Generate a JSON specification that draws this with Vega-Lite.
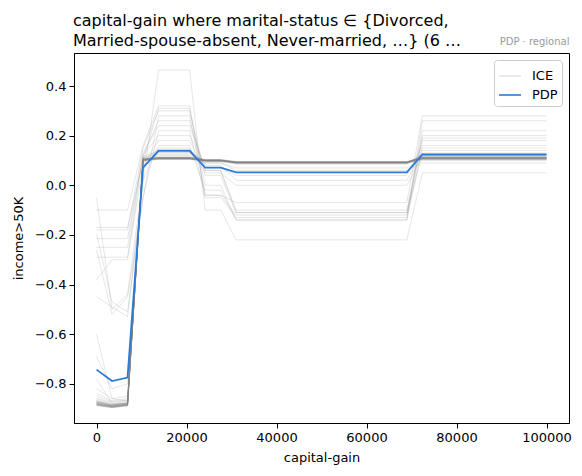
{
"$schema": "https://vega.github.io/schema/vega-lite/v6.json",
"width": 495, "height": 370,
"autosize": {"type": "none"},
"padding": {"left": 74, "top": 53, "right": 13, "bottom": 53},
"background": "white",
"title": {"text": ["capital-gain where marital-status ∈ {Divorced,", "Married-spouse-absent, Never-married, …} (6 …"], "anchor": "start", "frame": "group", "fontSize": 16, "font": "DejaVu Sans", "fontWeight": "normal", "color": "black", "lineHeight": 20, "offset": -13, "dx": -1},
"config": {
 "view": {"stroke": "black", "strokeWidth": 1},
 "axis": {"labelFont": "DejaVu Sans", "titleFont": "DejaVu Sans", "labelFontSize": 13, "titleFontSize": 13, "titleFontWeight": "normal", "labelColor": "black", "titleColor": "black", "domainColor": "black", "tickColor": "black", "tickSize": 5, "labelPadding": 3, "grid": false},
 "legend": {"orient": "top-right", "offset": 7, "padding": 4, "fillColor": "white", "strokeColor": "#cccccc", "cornerRadius": 3, "labelFont": "DejaVu Sans", "labelFontSize": 13, "labelColor": "black", "labelOffset": 10, "symbolSize": 484, "symbolStrokeWidth": 1.6, "rowPadding": 0}
},
"datasets": {
"pdp": [
{"x":0,"y":-0.743},{"x":3448,"y":-0.789},{"x":6897,"y":-0.775},{"x":10345,"y":0.071},{"x":13793,"y":0.139},{"x":17241,"y":0.139},{"x":20690,"y":0.139},{"x":24138,"y":0.071},{"x":27586,"y":0.071},{"x":31034,"y":0.052},{"x":34483,"y":0.052},{"x":37931,"y":0.052},{"x":41379,"y":0.052},{"x":44828,"y":0.052},{"x":48276,"y":0.052},{"x":51724,"y":0.052},{"x":55172,"y":0.052},{"x":58621,"y":0.052},{"x":62069,"y":0.052},{"x":65517,"y":0.052},{"x":68966,"y":0.052},{"x":72414,"y":0.124},{"x":75862,"y":0.124},{"x":79310,"y":0.124},{"x":82759,"y":0.124},{"x":86207,"y":0.124},{"x":89655,"y":0.124},{"x":93103,"y":0.124},{"x":96552,"y":0.124},{"x":100000,"y":0.124}
],
"ice": [
{"id":"O1","x":0,"y":-0.05},{"id":"O1","x":3448,"y":-0.5},{"id":"O1","x":6897,"y":-0.44},{"id":"O1","x":10345,"y":0.02},{"id":"O1","x":13793,"y":0.465},{"id":"O1","x":20690,"y":0.465},{"id":"O1","x":24138,"y":-0.1},{"id":"O1","x":27586,"y":-0.1},{"id":"O1","x":31034,"y":-0.22},{"id":"O1","x":68966,"y":-0.22},{"id":"O1","x":72414,"y":0.05},{"id":"O1","x":100000,"y":0.05},
{"id":"O2","x":0,"y":-0.1},{"id":"O2","x":3448,"y":-0.1},{"id":"O2","x":6897,"y":-0.1},{"id":"O2","x":10345,"y":0.16},{"id":"O2","x":13793,"y":0.32},{"id":"O2","x":20690,"y":0.32},{"id":"O2","x":24138,"y":-0.04},{"id":"O2","x":27586,"y":-0.04},{"id":"O2","x":31034,"y":-0.07},{"id":"O2","x":68966,"y":-0.07},{"id":"O2","x":72414,"y":0.28},{"id":"O2","x":100000,"y":0.28},
{"id":"O3","x":0,"y":-0.17},{"id":"O3","x":3448,"y":-0.17},{"id":"O3","x":6897,"y":-0.17},{"id":"O3","x":10345,"y":0.1},{"id":"O3","x":13793,"y":0.31},{"id":"O3","x":20690,"y":0.31},{"id":"O3","x":24138,"y":0.0},{"id":"O3","x":27586,"y":0.0},{"id":"O3","x":31034,"y":-0.14},{"id":"O3","x":68966,"y":-0.14},{"id":"O3","x":72414,"y":0.26},{"id":"O3","x":100000,"y":0.26},
{"id":"O4","x":0,"y":-0.18},{"id":"O4","x":3448,"y":-0.18},{"id":"O4","x":6897,"y":-0.18},{"id":"O4","x":10345,"y":0.15},{"id":"O4","x":13793,"y":0.3},{"id":"O4","x":20690,"y":0.3},{"id":"O4","x":24138,"y":0.04},{"id":"O4","x":27586,"y":0.04},{"id":"O4","x":31034,"y":-0.11},{"id":"O4","x":68966,"y":-0.11},{"id":"O4","x":72414,"y":0.22},{"id":"O4","x":100000,"y":0.22},
{"id":"O5","x":0,"y":-0.195},{"id":"O5","x":3448,"y":-0.47},{"id":"O5","x":6897,"y":-0.51},{"id":"O5","x":10345,"y":-0.05},{"id":"O5","x":13793,"y":0.28},{"id":"O5","x":20690,"y":0.28},{"id":"O5","x":24138,"y":-0.04},{"id":"O5","x":27586,"y":-0.04},{"id":"O5","x":31034,"y":-0.12},{"id":"O5","x":68966,"y":-0.12},{"id":"O5","x":72414,"y":0.2},{"id":"O5","x":100000,"y":0.2},
{"id":"O6","x":0,"y":-0.215},{"id":"O6","x":3448,"y":-0.215},{"id":"O6","x":6897,"y":-0.215},{"id":"O6","x":10345,"y":0.12},{"id":"O6","x":13793,"y":0.26},{"id":"O6","x":20690,"y":0.26},{"id":"O6","x":24138,"y":0.06},{"id":"O6","x":27586,"y":0.06},{"id":"O6","x":31034,"y":-0.1},{"id":"O6","x":68966,"y":-0.1},{"id":"O6","x":72414,"y":0.19},{"id":"O6","x":100000,"y":0.19},
{"id":"O7","x":0,"y":-0.25},{"id":"O7","x":3448,"y":-0.25},{"id":"O7","x":6897,"y":-0.25},{"id":"O7","x":10345,"y":0.13},{"id":"O7","x":13793,"y":0.24},{"id":"O7","x":20690,"y":0.24},{"id":"O7","x":24138,"y":0.07},{"id":"O7","x":27586,"y":0.07},{"id":"O7","x":31034,"y":0.04},{"id":"O7","x":68966,"y":0.04},{"id":"O7","x":72414,"y":0.16},{"id":"O7","x":100000,"y":0.16},
{"id":"O8","x":0,"y":-0.26},{"id":"O8","x":3448,"y":-0.52},{"id":"O8","x":6897,"y":-0.45},{"id":"O8","x":10345,"y":-0.05},{"id":"O8","x":13793,"y":0.22},{"id":"O8","x":20690,"y":0.22},{"id":"O8","x":24138,"y":-0.05},{"id":"O8","x":27586,"y":-0.05},{"id":"O8","x":31034,"y":-0.13},{"id":"O8","x":68966,"y":-0.13},{"id":"O8","x":72414,"y":0.18},{"id":"O8","x":100000,"y":0.18},
{"id":"O9","x":0,"y":-0.29},{"id":"O9","x":3448,"y":-0.29},{"id":"O9","x":6897,"y":-0.29},{"id":"O9","x":10345,"y":0.12},{"id":"O9","x":13793,"y":0.2},{"id":"O9","x":20690,"y":0.2},{"id":"O9","x":24138,"y":0.08},{"id":"O9","x":27586,"y":0.08},{"id":"O9","x":31034,"y":0.02},{"id":"O9","x":68966,"y":0.02},{"id":"O9","x":72414,"y":0.14},{"id":"O9","x":100000,"y":0.14},
{"id":"O10","x":0,"y":-0.38},{"id":"O10","x":3448,"y":-0.3},{"id":"O10","x":6897,"y":-0.3},{"id":"O10","x":10345,"y":0.08},{"id":"O10","x":13793,"y":0.18},{"id":"O10","x":20690,"y":0.18},{"id":"O10","x":24138,"y":0.06},{"id":"O10","x":27586,"y":0.06},{"id":"O10","x":31034,"y":-0.11},{"id":"O10","x":68966,"y":-0.11},{"id":"O10","x":72414,"y":0.13},{"id":"O10","x":100000,"y":0.13},
{"id":"O11","x":0,"y":-0.45},{"id":"O11","x":3448,"y":-0.49},{"id":"O11","x":6897,"y":-0.53},{"id":"O11","x":10345,"y":0.02},{"id":"O11","x":13793,"y":0.16},{"id":"O11","x":20690,"y":0.16},{"id":"O11","x":24138,"y":-0.02},{"id":"O11","x":27586,"y":-0.02},{"id":"O11","x":31034,"y":-0.14},{"id":"O11","x":68966,"y":-0.14},{"id":"O11","x":72414,"y":0.15},{"id":"O11","x":100000,"y":0.15},
{"id":"O12","x":0,"y":-0.69},{"id":"O12","x":3448,"y":-0.82},{"id":"O12","x":6897,"y":-0.8},{"id":"O12","x":10345,"y":0.09},{"id":"O12","x":13793,"y":0.15},{"id":"O12","x":20690,"y":0.15},{"id":"O12","x":24138,"y":0.05},{"id":"O12","x":27586,"y":0.05},{"id":"O12","x":31034,"y":0.0},{"id":"O12","x":68966,"y":0.0},{"id":"O12","x":72414,"y":0.12},{"id":"O12","x":100000,"y":0.12},
{"id":"O13","x":0,"y":-0.6},{"id":"O13","x":3448,"y":-0.86},{"id":"O13","x":6897,"y":-0.87},{"id":"O13","x":10345,"y":0.08},{"id":"O13","x":13793,"y":0.13},{"id":"O13","x":20690,"y":0.13},{"id":"O13","x":24138,"y":0.09},{"id":"O13","x":27586,"y":0.09},{"id":"O13","x":31034,"y":0.07},{"id":"O13","x":68966,"y":0.07},{"id":"O13","x":72414,"y":0.1},{"id":"O13","x":100000,"y":0.1},
{"id":"O14","x":0,"y":-0.78},{"id":"O14","x":3448,"y":-0.88},{"id":"O14","x":6897,"y":-0.88},{"id":"O14","x":10345,"y":0.1},{"id":"O14","x":13793,"y":0.12},{"id":"O14","x":20690,"y":0.12},{"id":"O14","x":24138,"y":0.09},{"id":"O14","x":27586,"y":0.09},{"id":"O14","x":31034,"y":0.06},{"id":"O14","x":68966,"y":0.06},{"id":"O14","x":72414,"y":0.09},{"id":"O14","x":100000,"y":0.09},
{"id":"C1","x":0,"y":-0.87},{"id":"C1","x":3448,"y":-0.885},{"id":"C1","x":6897,"y":-0.878},{"id":"C1","x":10345,"y":0.102},{"id":"C1","x":13793,"y":0.108},{"id":"C1","x":20690,"y":0.108},{"id":"C1","x":24138,"y":0.1},{"id":"C1","x":27586,"y":0.1},{"id":"C1","x":31034,"y":0.092},{"id":"C1","x":68966,"y":0.092},{"id":"C1","x":72414,"y":0.11},{"id":"C1","x":100000,"y":0.11},
{"id":"C2","x":0,"y":-0.875},{"id":"C2","x":3448,"y":-0.89},{"id":"C2","x":6897,"y":-0.88},{"id":"C2","x":10345,"y":0.104},{"id":"C2","x":13793,"y":0.11},{"id":"C2","x":20690,"y":0.11},{"id":"C2","x":24138,"y":0.101},{"id":"C2","x":27586,"y":0.101},{"id":"C2","x":31034,"y":0.093},{"id":"C2","x":68966,"y":0.093},{"id":"C2","x":72414,"y":0.112},{"id":"C2","x":100000,"y":0.112},
{"id":"C3","x":0,"y":-0.88},{"id":"C3","x":3448,"y":-0.892},{"id":"C3","x":6897,"y":-0.884},{"id":"C3","x":10345,"y":0.1},{"id":"C3","x":13793,"y":0.106},{"id":"C3","x":20690,"y":0.106},{"id":"C3","x":24138,"y":0.098},{"id":"C3","x":27586,"y":0.098},{"id":"C3","x":31034,"y":0.09},{"id":"C3","x":68966,"y":0.09},{"id":"C3","x":72414,"y":0.108},{"id":"C3","x":100000,"y":0.108},
{"id":"C4","x":0,"y":-0.884},{"id":"C4","x":3448,"y":-0.894},{"id":"C4","x":6897,"y":-0.886},{"id":"C4","x":10345,"y":0.103},{"id":"C4","x":13793,"y":0.109},{"id":"C4","x":20690,"y":0.109},{"id":"C4","x":24138,"y":0.099},{"id":"C4","x":27586,"y":0.099},{"id":"C4","x":31034,"y":0.091},{"id":"C4","x":68966,"y":0.091},{"id":"C4","x":72414,"y":0.106},{"id":"C4","x":100000,"y":0.106},
{"id":"C5","x":0,"y":-0.887},{"id":"C5","x":3448,"y":-0.895},{"id":"C5","x":6897,"y":-0.888},{"id":"C5","x":10345,"y":0.106},{"id":"C5","x":13793,"y":0.112},{"id":"C5","x":20690,"y":0.112},{"id":"C5","x":24138,"y":0.102},{"id":"C5","x":27586,"y":0.102},{"id":"C5","x":31034,"y":0.094},{"id":"C5","x":68966,"y":0.094},{"id":"C5","x":72414,"y":0.114},{"id":"C5","x":100000,"y":0.114},
{"id":"C6","x":0,"y":-0.862},{"id":"C6","x":3448,"y":-0.88},{"id":"C6","x":6897,"y":-0.872},{"id":"C6","x":10345,"y":0.101},{"id":"C6","x":13793,"y":0.107},{"id":"C6","x":20690,"y":0.107},{"id":"C6","x":24138,"y":0.1},{"id":"C6","x":27586,"y":0.1},{"id":"C6","x":31034,"y":0.092},{"id":"C6","x":68966,"y":0.092},{"id":"C6","x":72414,"y":0.109},{"id":"C6","x":100000,"y":0.109},
{"id":"C7","x":0,"y":-0.878},{"id":"C7","x":3448,"y":-0.888},{"id":"C7","x":6897,"y":-0.882},{"id":"C7","x":10345,"y":0.105},{"id":"C7","x":13793,"y":0.111},{"id":"C7","x":20690,"y":0.111},{"id":"C7","x":24138,"y":0.103},{"id":"C7","x":27586,"y":0.103},{"id":"C7","x":31034,"y":0.095},{"id":"C7","x":68966,"y":0.095},{"id":"C7","x":72414,"y":0.111},{"id":"C7","x":100000,"y":0.111},
{"id":"C8","x":0,"y":-0.882},{"id":"C8","x":3448,"y":-0.893},{"id":"C8","x":6897,"y":-0.885},{"id":"C8","x":10345,"y":0.099},{"id":"C8","x":13793,"y":0.105},{"id":"C8","x":20690,"y":0.105},{"id":"C8","x":24138,"y":0.097},{"id":"C8","x":27586,"y":0.097},{"id":"C8","x":31034,"y":0.089},{"id":"C8","x":68966,"y":0.089},{"id":"C8","x":72414,"y":0.104},{"id":"C8","x":100000,"y":0.104},
{"id":"C9","x":0,"y":-0.873},{"id":"C9","x":3448,"y":-0.886},{"id":"C9","x":6897,"y":-0.879},{"id":"C9","x":10345,"y":0.107},{"id":"C9","x":13793,"y":0.113},{"id":"C9","x":20690,"y":0.113},{"id":"C9","x":24138,"y":0.104},{"id":"C9","x":27586,"y":0.104},{"id":"C9","x":31034,"y":0.096},{"id":"C9","x":68966,"y":0.096},{"id":"C9","x":72414,"y":0.115},{"id":"C9","x":100000,"y":0.115},
{"id":"C10","x":0,"y":-0.886},{"id":"C10","x":3448,"y":-0.896},{"id":"C10","x":6897,"y":-0.889},{"id":"C10","x":10345,"y":0.102},{"id":"C10","x":13793,"y":0.108},{"id":"C10","x":20690,"y":0.108},{"id":"C10","x":24138,"y":0.099},{"id":"C10","x":27586,"y":0.099},{"id":"C10","x":31034,"y":0.091},{"id":"C10","x":68966,"y":0.091},{"id":"C10","x":72414,"y":0.107},{"id":"C10","x":100000,"y":0.107},
{"id":"C11","x":0,"y":-0.858},{"id":"C11","x":3448,"y":-0.876},{"id":"C11","x":6897,"y":-0.868},{"id":"C11","x":10345,"y":0.104},{"id":"C11","x":13793,"y":0.11},{"id":"C11","x":20690,"y":0.11},{"id":"C11","x":24138,"y":0.101},{"id":"C11","x":27586,"y":0.101},{"id":"C11","x":31034,"y":0.093},{"id":"C11","x":68966,"y":0.093},{"id":"C11","x":72414,"y":0.11},{"id":"C11","x":100000,"y":0.11},
{"id":"C12","x":0,"y":-0.88},{"id":"C12","x":3448,"y":-0.89},{"id":"C12","x":6897,"y":-0.883},{"id":"C12","x":10345,"y":0.1},{"id":"C12","x":13793,"y":0.106},{"id":"C12","x":20690,"y":0.106},{"id":"C12","x":24138,"y":0.098},{"id":"C12","x":27586,"y":0.098},{"id":"C12","x":31034,"y":0.09},{"id":"C12","x":68966,"y":0.09},{"id":"C12","x":72414,"y":0.105},{"id":"C12","x":100000,"y":0.105},
{"id":"C13","x":0,"y":-0.876},{"id":"C13","x":3448,"y":-0.887},{"id":"C13","x":6897,"y":-0.881},{"id":"C13","x":10345,"y":0.108},{"id":"C13","x":13793,"y":0.114},{"id":"C13","x":20690,"y":0.114},{"id":"C13","x":24138,"y":0.102},{"id":"C13","x":27586,"y":0.102},{"id":"C13","x":31034,"y":0.094},{"id":"C13","x":68966,"y":0.094},{"id":"C13","x":72414,"y":0.113},{"id":"C13","x":100000,"y":0.113},
{"id":"C14","x":0,"y":-0.885},{"id":"C14","x":3448,"y":-0.894},{"id":"C14","x":6897,"y":-0.887},{"id":"C14","x":10345,"y":0.103},{"id":"C14","x":13793,"y":0.109},{"id":"C14","x":20690,"y":0.109},{"id":"C14","x":24138,"y":0.1},{"id":"C14","x":27586,"y":0.1},{"id":"C14","x":31034,"y":0.092},{"id":"C14","x":68966,"y":0.092},{"id":"C14","x":72414,"y":0.108},{"id":"C14","x":100000,"y":0.108},
{"id":"C15","x":0,"y":-0.868},{"id":"C15","x":3448,"y":-0.884},{"id":"C15","x":6897,"y":-0.876},{"id":"C15","x":10345,"y":0.101},{"id":"C15","x":13793,"y":0.107},{"id":"C15","x":20690,"y":0.107},{"id":"C15","x":24138,"y":0.099},{"id":"C15","x":27586,"y":0.099},{"id":"C15","x":31034,"y":0.091},{"id":"C15","x":68966,"y":0.091},{"id":"C15","x":72414,"y":0.109},{"id":"C15","x":100000,"y":0.109},
{"id":"C16","x":0,"y":-0.883},{"id":"C16","x":3448,"y":-0.892},{"id":"C16","x":6897,"y":-0.886},{"id":"C16","x":10345,"y":0.105},{"id":"C16","x":13793,"y":0.111},{"id":"C16","x":20690,"y":0.111},{"id":"C16","x":24138,"y":0.101},{"id":"C16","x":27586,"y":0.101},{"id":"C16","x":31034,"y":0.093},{"id":"C16","x":68966,"y":0.093},{"id":"C16","x":72414,"y":0.111},{"id":"C16","x":100000,"y":0.111},
{"id":"C17","x":0,"y":-0.85},{"id":"C17","x":3448,"y":-0.872},{"id":"C17","x":6897,"y":-0.865},{"id":"C17","x":10345,"y":0.11},{"id":"C17","x":13793,"y":0.125},{"id":"C17","x":20690,"y":0.125},{"id":"C17","x":24138,"y":0.1},{"id":"C17","x":27586,"y":0.1},{"id":"C17","x":31034,"y":0.092},{"id":"C17","x":68966,"y":0.092},{"id":"C17","x":72414,"y":0.118},{"id":"C17","x":100000,"y":0.118},
{"id":"C18","x":0,"y":-0.84},{"id":"C18","x":3448,"y":-0.868},{"id":"C18","x":6897,"y":-0.86},{"id":"C18","x":10345,"y":0.112},{"id":"C18","x":13793,"y":0.132},{"id":"C18","x":20690,"y":0.132},{"id":"C18","x":24138,"y":0.098},{"id":"C18","x":27586,"y":0.098},{"id":"C18","x":31034,"y":0.088},{"id":"C18","x":68966,"y":0.088},{"id":"C18","x":72414,"y":0.122},{"id":"C18","x":100000,"y":0.122},
{"id":"C19","x":0,"y":-0.879},{"id":"C19","x":3448,"y":-0.889},{"id":"C19","x":6897,"y":-0.883},{"id":"C19","x":10345,"y":0.098},{"id":"C19","x":13793,"y":0.104},{"id":"C19","x":20690,"y":0.104},{"id":"C19","x":24138,"y":0.097},{"id":"C19","x":27586,"y":0.097},{"id":"C19","x":31034,"y":0.089},{"id":"C19","x":68966,"y":0.089},{"id":"C19","x":72414,"y":0.103},{"id":"C19","x":100000,"y":0.103},
{"id":"C20","x":0,"y":-0.888},{"id":"C20","x":3448,"y":-0.896},{"id":"C20","x":6897,"y":-0.889},{"id":"C20","x":10345,"y":0.104},{"id":"C20","x":13793,"y":0.11},{"id":"C20","x":20690,"y":0.11},{"id":"C20","x":24138,"y":0.1},{"id":"C20","x":27586,"y":0.1},{"id":"C20","x":31034,"y":0.092},{"id":"C20","x":68966,"y":0.092},{"id":"C20","x":72414,"y":0.11},{"id":"C20","x":100000,"y":0.11},
{"id":"C21","x":0,"y":-0.872},{"id":"C21","x":3448,"y":-0.886},{"id":"C21","x":6897,"y":-0.878},{"id":"C21","x":10345,"y":0.106},{"id":"C21","x":13793,"y":0.112},{"id":"C21","x":20690,"y":0.112},{"id":"C21","x":24138,"y":0.102},{"id":"C21","x":27586,"y":0.102},{"id":"C21","x":31034,"y":0.094},{"id":"C21","x":68966,"y":0.094},{"id":"C21","x":72414,"y":0.112},{"id":"C21","x":100000,"y":0.112},
{"id":"C22","x":0,"y":-0.881},{"id":"C22","x":3448,"y":-0.891},{"id":"C22","x":6897,"y":-0.884},{"id":"C22","x":10345,"y":0.102},{"id":"C22","x":13793,"y":0.108},{"id":"C22","x":20690,"y":0.108},{"id":"C22","x":24138,"y":0.099},{"id":"C22","x":27586,"y":0.099},{"id":"C22","x":31034,"y":0.091},{"id":"C22","x":68966,"y":0.091},{"id":"C22","x":72414,"y":0.107},{"id":"C22","x":100000,"y":0.107},
{"id":"C23","x":0,"y":-0.82},{"id":"C23","x":3448,"y":-0.86},{"id":"C23","x":6897,"y":-0.85},{"id":"C23","x":10345,"y":0.115},{"id":"C23","x":13793,"y":0.14},{"id":"C23","x":20690,"y":0.14},{"id":"C23","x":24138,"y":0.095},{"id":"C23","x":27586,"y":0.095},{"id":"C23","x":31034,"y":0.085},{"id":"C23","x":68966,"y":0.085},{"id":"C23","x":72414,"y":0.125},{"id":"C23","x":100000,"y":0.125},
{"id":"C24","x":0,"y":-0.884},{"id":"C24","x":3448,"y":-0.893},{"id":"C24","x":6897,"y":-0.886},{"id":"C24","x":10345,"y":0.103},{"id":"C24","x":13793,"y":0.109},{"id":"C24","x":20690,"y":0.109},{"id":"C24","x":24138,"y":0.1},{"id":"C24","x":27586,"y":0.1},{"id":"C24","x":31034,"y":0.092},{"id":"C24","x":68966,"y":0.092},{"id":"C24","x":72414,"y":0.109},{"id":"C24","x":100000,"y":0.109},
{"id":"C25","x":0,"y":-0.877},{"id":"C25","x":3448,"y":-0.888},{"id":"C25","x":6897,"y":-0.882},{"id":"C25","x":10345,"y":0.101},{"id":"C25","x":13793,"y":0.107},{"id":"C25","x":20690,"y":0.107},{"id":"C25","x":24138,"y":0.098},{"id":"C25","x":27586,"y":0.098},{"id":"C25","x":31034,"y":0.09},{"id":"C25","x":68966,"y":0.09},{"id":"C25","x":72414,"y":0.106},{"id":"C25","x":100000,"y":0.106},
{"id":"C26","x":0,"y":-0.869},{"id":"C26","x":3448,"y":-0.884},{"id":"C26","x":6897,"y":-0.877},{"id":"C26","x":10345,"y":0.105},{"id":"C26","x":13793,"y":0.111},{"id":"C26","x":20690,"y":0.111},{"id":"C26","x":24138,"y":0.101},{"id":"C26","x":27586,"y":0.101},{"id":"C26","x":31034,"y":0.093},{"id":"C26","x":68966,"y":0.093},{"id":"C26","x":72414,"y":0.112},{"id":"C26","x":100000,"y":0.112}
]
},
"layer": [
 {
  "data": {"name": "ice"},
  "mark": {"type": "line", "strokeWidth": 1, "clip": true},
  "encoding": {
   "x": {"field": "x", "type": "quantitative", "scale": {"domain": [-5000, 105000], "nice": false, "zero": false}, "axis": {"values": [0, 20000, 40000, 60000, 80000, 100000], "format": "d", "title": "capital-gain", "titlePadding": 7}},
   "y": {"field": "y", "type": "quantitative", "scale": {"domain": [-0.958, 0.533], "nice": false, "zero": false}, "axis": {"values": [-0.8, -0.6, -0.4, -0.2, 0.0, 0.2, 0.4], "format": ".1f", "title": "income>50K", "titlePadding": 9}},
   "detail": {"field": "id", "type": "nominal"},
   "color": {"datum": "ICE", "type": "nominal", "scale": {"domain": ["ICE", "PDP"], "range": ["#808080", "#2b7bd6"]}, "legend": {"title": null}},
   "opacity": {"datum": "ICE", "type": "nominal", "scale": {"domain": ["ICE", "PDP"], "range": [0.2, 1]}, "legend": {"title": null}}
  }
 },
 {
  "data": {"name": "pdp"},
  "mark": {"type": "line", "strokeWidth": 1.8, "clip": true},
  "encoding": {
   "x": {"field": "x", "type": "quantitative", "scale": {"domain": [-5000, 105000], "nice": false, "zero": false}, "axis": {"orient": "top", "title": "PDP · regional", "labels": false, "ticks": false, "domain": false, "titleAnchor": "end", "titleFontSize": 10, "titleColor": "#999999", "titlePadding": 7}},
   "y": {"field": "y", "type": "quantitative", "scale": {"domain": [-0.958, 0.533], "nice": false, "zero": false}, "axis": {"values": [-0.8, -0.6, -0.4, -0.2, 0.0, 0.2, 0.4], "format": ".1f", "title": "income>50K", "titlePadding": 9}},
   "color": {"datum": "PDP", "type": "nominal", "scale": {"domain": ["ICE", "PDP"], "range": ["#808080", "#2b7bd6"]}, "legend": {"title": null}},
   "opacity": {"datum": "PDP", "type": "nominal", "scale": {"domain": ["ICE", "PDP"], "range": [0.2, 1]}, "legend": {"title": null}}
  }
 }
],
"resolve": {"axis": {"x": "independent"}}
}
